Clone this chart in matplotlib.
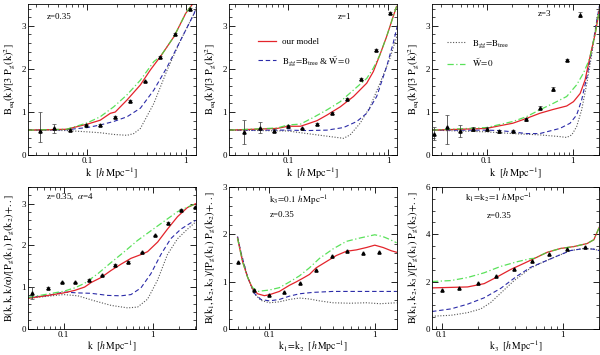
import matplotlib
matplotlib.use("Agg")
import matplotlib.pyplot as plt
from matplotlib.ticker import MultipleLocator, LogLocator, NullFormatter, FixedLocator, FixedFormatter

plt.rcParams["font.family"] = ["Liberation Serif", "DejaVu Serif"]
plt.rcParams["mathtext.fontset"] = "stix"

RED = "#e3242b"
GREEN = "#3ddc3d"
BLUE = "#2b2ba8"
GREY = "#555555"

# ---- panel 1: z=0.35, equilateral ----
p1_pts_k = [0.0328, 0.046, 0.0665, 0.097, 0.135, 0.192, 0.269, 0.384, 0.546, 0.77, 1.10]
p1_pts_y = [0.56, 0.62, 0.58, 0.71, 0.70, 0.88, 1.25, 1.71, 2.27, 2.81, 3.39]
p1_err_lo = [0.25, 0.10, 0.03, 0.02, 0.02, 0.02, 0.02, 0.02, 0.02, 0.02, 0.02]
p1_err_hi = [0.44, 0.10, 0.03, 0.02, 0.02, 0.02, 0.02, 0.02, 0.02, 0.02, 0.02]
p1_red_k = [0.0249, 0.0614, 0.1, 0.135, 0.171, 0.192, 0.253, 0.346, 0.438, 0.554, 0.76, 1.0, 1.17]
p1_red_y = [0.58, 0.60, 0.72, 0.81, 0.97, 1.00, 1.28, 1.63, 1.98, 2.29, 2.75, 3.29, 3.50]
p1_grn_k = [0.0249, 0.0614, 0.1, 0.135, 0.185, 0.253, 0.346, 0.474, 0.554, 0.76, 1.0, 1.17]
p1_grn_y = [0.58, 0.60, 0.75, 0.89, 1.12, 1.40, 1.74, 2.17, 2.29, 2.75, 3.29, 3.50]
p1_blu_k = [0.0249, 0.0614, 0.1, 0.135, 0.185, 0.253, 0.346, 0.474, 0.649, 0.889, 1.22, 1.31]
p1_blu_y = [0.58, 0.59, 0.64, 0.70, 0.78, 0.89, 1.09, 1.51, 2.05, 2.67, 3.29, 3.49]
p1_dot_k = [0.0249, 0.0614, 0.1, 0.135, 0.185, 0.253, 0.296, 0.346, 0.474, 0.649, 0.889, 1.22, 1.31]
p1_dot_y = [0.58, 0.57, 0.54, 0.52, 0.48, 0.46, 0.50, 0.62, 1.20, 1.98, 2.67, 3.29, 3.49]

# ---- panel 2: z=1, equilateral ----
p2_pts_k = [0.0366, 0.0528, 0.0726, 0.1, 0.139, 0.195, 0.275, 0.386, 0.536, 0.75, 1.04]
p2_pts_y = [0.53, 0.62, 0.57, 0.67, 0.62, 0.72, 0.98, 1.31, 1.77, 2.44, 3.29]
p2_err_lo = [0.28, 0.10, 0.04, 0.03, 0.02, 0.02, 0.02, 0.02, 0.02, 0.02, 0.02]
p2_err_hi = [0.28, 0.15, 0.04, 0.03, 0.02, 0.02, 0.02, 0.02, 0.02, 0.02, 0.02]
p2_red_k = [0.0261, 0.0784, 0.1, 0.1334, 0.155, 0.195, 0.245, 0.332, 0.450, 0.610, 0.710, 0.826, 0.962, 1.12, 1.21]
p2_red_y = [0.58, 0.62, 0.67, 0.67, 0.72, 0.80, 0.93, 1.12, 1.36, 1.67, 1.94, 2.33, 2.75, 3.22, 3.45]
p2_grn_k = [0.0261, 0.0784, 0.1, 0.1334, 0.181, 0.245, 0.332, 0.450, 0.610, 0.710, 0.826, 0.962, 1.12, 1.21]
p2_grn_y = [0.58, 0.63, 0.70, 0.72, 0.88, 1.05, 1.24, 1.51, 1.78, 2.02, 2.33, 2.75, 3.22, 3.45]
p2_blu_k = [0.0261, 0.1, 0.155, 0.245, 0.358, 0.485, 0.610, 0.766, 0.962, 1.12, 1.26]
p2_blu_y = [0.58, 0.58, 0.57, 0.58, 0.64, 0.78, 0.97, 1.36, 2.05, 2.60, 3.10]
p2_dot_k = [0.0261, 0.1, 0.155, 0.245, 0.358, 0.417, 0.524, 0.658, 0.826, 1.04, 1.26]
p2_dot_y = [0.58, 0.56, 0.50, 0.44, 0.39, 0.47, 0.74, 1.12, 1.67, 2.25, 2.87]

# ---- panel 3: z=3, equilateral ----
p3_pts_k = [0.0244, 0.0349, 0.049, 0.0698, 0.1, 0.141, 0.202, 0.289, 0.414, 0.593, 0.851, 1.22]
p3_pts_y = [0.50, 0.66, 0.56, 0.60, 0.60, 0.55, 0.56, 0.83, 1.10, 1.53, 2.21, 3.26]
p3_err_lo = [0.15, 0.40, 0.13, 0.05, 0.05, 0.03, 0.03, 0.03, 0.03, 0.05, 0.03, 0.05]
p3_err_hi = [0.15, 0.26, 0.13, 0.05, 0.05, 0.03, 0.03, 0.03, 0.03, 0.05, 0.03, 0.05]
p3_red_k = [0.0233, 0.1, 0.141, 0.202, 0.289, 0.414, 0.593, 0.851, 1.02, 1.22, 1.39, 1.59, 1.83, 2.04]
p3_red_y = [0.58, 0.62, 0.68, 0.74, 0.85, 0.97, 1.06, 1.14, 1.24, 1.43, 1.74, 2.29, 2.83, 3.37]
p3_grn_k = [0.0233, 0.1, 0.202, 0.289, 0.414, 0.593, 0.851, 1.11, 1.33, 1.53, 1.59, 1.83, 2.04]
p3_grn_y = [0.58, 0.64, 0.78, 0.89, 1.05, 1.20, 1.36, 1.63, 1.90, 2.18, 2.29, 2.83, 3.37]
p3_blu_k = [0.0233, 0.1, 0.141, 0.202, 0.289, 0.414, 0.710, 0.932, 1.11, 1.27, 1.46, 1.67, 1.91, 2.04]
p3_blu_y = [0.58, 0.58, 0.57, 0.54, 0.50, 0.50, 0.62, 0.74, 0.93, 1.28, 1.82, 2.44, 3.14, 3.45]
p3_dot_k = [0.0233, 0.1, 0.202, 0.414, 0.710, 0.851, 0.976, 1.11, 1.27, 1.46, 1.67, 1.91, 2.04]
p3_dot_y = [0.58, 0.54, 0.50, 0.47, 0.43, 0.41, 0.47, 0.66, 1.05, 1.67, 2.36, 3.14, 3.45]

# ---- panel 4: z=0.35, alpha=4 ----
p4_pts_k = [0.0442, 0.0668, 0.0958, 0.135, 0.191, 0.269, 0.379, 0.534, 0.753, 1.06, 1.50, 2.11, 2.98]
p4_pts_y = [0.86, 0.98, 1.11, 1.11, 1.17, 1.28, 1.53, 1.60, 1.83, 2.24, 2.54, 2.86, 2.91]
p4_err = [0.15, 0.03, 0.02, 0.02, 0.02, 0.02, 0.02, 0.02, 0.02, 0.02, 0.02, 0.02, 0.02]
p4_red_k = [0.0399, 0.0668, 0.1, 0.133, 0.172, 0.204, 0.264, 0.342, 0.442, 0.572, 0.740, 0.879, 1.14, 1.47, 1.91, 2.47, 3.05]
p4_red_y = [0.73, 0.80, 0.86, 0.92, 1.00, 1.11, 1.23, 1.40, 1.55, 1.69, 1.78, 1.85, 2.08, 2.39, 2.69, 2.91, 3.00]
p4_grn_k = [0.0399, 0.1, 0.133, 0.172, 0.242, 0.342, 0.482, 0.679, 0.957, 1.35, 1.91, 2.47, 3.05]
p4_grn_y = [0.75, 0.90, 0.98, 1.09, 1.32, 1.59, 1.85, 2.12, 2.35, 2.58, 2.81, 2.92, 3.00]
p4_blu_k = [0.0399, 0.0668, 0.1, 0.1446, 0.204, 0.313, 0.442, 0.572, 0.740, 0.957, 1.24, 1.60, 2.08, 2.69, 3.05]
p4_blu_y = [0.75, 0.80, 0.88, 0.86, 0.85, 0.80, 0.79, 0.82, 0.98, 1.32, 1.78, 2.16, 2.39, 2.54, 2.60]
p4_dot_k = [0.0399, 0.1, 0.1446, 0.222, 0.342, 0.525, 0.679, 0.879, 1.14, 1.47, 1.91, 2.47, 3.05]
p4_dot_y = [0.73, 0.82, 0.79, 0.67, 0.56, 0.50, 0.52, 0.71, 1.17, 1.78, 2.16, 2.39, 2.56]

# ---- panel 5: k3=0.1, z=0.35 ----
p5_pts_k = [0.0499, 0.072, 0.0985, 0.139, 0.197, 0.278, 0.395, 0.549, 0.775, 1.10]
p5_pts_y = [1.42, 0.82, 0.71, 0.77, 0.97, 1.25, 1.54, 1.65, 1.60, 1.63]
p5_red_k = [0.0499, 0.0557, 0.0622, 0.0693, 0.0774, 0.0896, 0.1, 0.1245, 0.155, 0.179, 0.208, 0.240, 0.278, 0.346, 0.431, 0.537, 0.669, 0.833, 1.0, 1.20, 1.44, 1.61]
p5_red_y = [1.92, 1.42, 1.09, 0.85, 0.74, 0.70, 0.72, 0.79, 0.92, 0.99, 1.07, 1.15, 1.29, 1.42, 1.55, 1.64, 1.67, 1.72, 1.77, 1.72, 1.65, 1.62]
p5_grn_k = [0.0499, 0.0557, 0.0622, 0.0693, 0.0774, 0.1, 0.1245, 0.155, 0.193, 0.240, 0.299, 0.401, 0.537, 0.719, 1.0, 1.20, 1.39, 1.61]
p5_grn_y = [1.92, 1.42, 1.09, 0.87, 0.79, 0.82, 0.87, 0.99, 1.12, 1.29, 1.49, 1.69, 1.85, 1.92, 1.99, 1.95, 1.89, 1.82]
p5_blu_k = [0.0499, 0.0537, 0.0622, 0.0720, 0.0833, 0.1, 0.1245, 0.155, 0.193, 0.259, 0.401, 0.622, 1.61]
p5_blu_y = [1.95, 1.62, 1.09, 0.75, 0.62, 0.59, 0.62, 0.69, 0.74, 0.77, 0.79, 0.79, 0.79]
p5_dot_k = [0.0499, 0.0537, 0.0622, 0.0720, 0.0833, 0.1, 0.1245, 0.155, 0.193, 0.240, 0.299, 0.401, 0.578, 0.833, 1.12, 1.61]
p5_dot_y = [1.95, 1.62, 1.09, 0.74, 0.60, 0.55, 0.57, 0.62, 0.65, 0.63, 0.59, 0.55, 0.54, 0.55, 0.53, 0.55]

# ---- panel 6: k1=k2=1, z=0.35 ----
p6_pts_k = [0.1, 0.140, 0.200, 0.283, 0.396, 0.552, 0.767, 1.09, 1.52]
p6_pts_y = [1.64, 1.73, 1.95, 2.24, 2.55, 2.87, 3.16, 3.37, 3.48]
p6_red_k = [0.0833, 0.1637, 0.2243, 0.288, 0.371, 0.478, 0.578, 0.744, 0.957, 1.23, 1.585, 1.80, 2.0]
p6_red_y = [1.73, 1.77, 1.91, 2.20, 2.51, 2.77, 2.97, 3.24, 3.40, 3.48, 3.61, 3.77, 4.31]
p6_grn_k = [0.0833, 0.1194, 0.1637, 0.2243, 0.307, 0.421, 0.542, 0.578, 0.744, 0.957, 1.23, 1.585, 1.80, 2.0]
p6_grn_y = [2.00, 2.04, 2.17, 2.37, 2.64, 2.84, 2.97, 2.98, 3.24, 3.40, 3.48, 3.61, 3.77, 4.31]
p6_blu_k = [0.0833, 0.1194, 0.1637, 0.2243, 0.307, 0.421, 0.542, 0.698, 0.898, 1.156, 1.49, 1.80, 2.0]
p6_blu_y = [0.73, 0.84, 1.04, 1.31, 1.71, 2.24, 2.60, 2.84, 3.08, 3.31, 3.40, 3.37, 3.31]
p6_dot_k = [0.0833, 0.1194, 0.1637, 0.2105, 0.254, 0.307, 0.396, 0.542, 0.698, 0.898, 1.156, 1.49, 1.80, 2.0]
p6_dot_y = [0.53, 0.57, 0.68, 0.84, 1.11, 1.51, 2.04, 2.57, 2.84, 3.08, 3.31, 3.40, 3.37, 3.31]

eq_ylabel = r"$\rm B_{eq}(k)/[3\ P_g(k)^2]$"
klabel = r"$\rm k\ \ [\mathit{h}\,Mpc^{-1}]$"

fig = plt.figure(figsize=(6.0, 3.55), dpi=100)

lefts = [0.047, 0.382, 0.720]
width = 0.279
top_b, top_h = 0.563, 0.425
bot_b, bot_h = 0.074, 0.399


def style(ax, xlim, ylim, ymaj, ymin):
    ax.set_xscale("log")
    ax.set_xlim(*xlim)
    ax.set_ylim(*ylim)
    ax.xaxis.set_major_locator(FixedLocator([0.1, 1.0]))
    ax.xaxis.set_major_formatter(FixedFormatter(["0.1", "1"]))
    ax.xaxis.set_minor_locator(LogLocator(base=10, subs=range(2, 10)))
    ax.xaxis.set_minor_formatter(NullFormatter())
    ax.yaxis.set_major_locator(MultipleLocator(ymaj))
    ax.yaxis.set_minor_locator(MultipleLocator(ymin))
    ax.tick_params(which="both", direction="in", top=True, right=True, labelsize=6.5, pad=1.5)
    ax.tick_params(which="major", length=4, width=0.6)
    ax.tick_params(which="minor", length=2, width=0.5)
    for s in ax.spines.values():
        s.set_linewidth(0.6)


def curves(ax, dot, blu, grn, red):
    ax.plot(dot[0], dot[1], color=GREY, ls=(0, (1, 1.5)), lw=0.8,
            label=r"$\rm B_{gg}\!=\!B_{tree}$")
    ax.plot(blu[0], blu[1], color=BLUE, ls=(0, (4, 2.5)), lw=0.8,
            label=r"$\rm B_{gg}\!=\!B_{tree}$ & $\tilde{\rm W}\!=\!0$")
    ax.plot(red[0], red[1], color=RED, lw=0.9, label="our model")
    ax.plot(grn[0], grn[1], color=GREEN, ls=(0, (5, 2, 1, 2)), lw=0.9, alpha=0.85,
            label=r"$\tilde{\rm W}\!=\!0$")


def points(ax, k, y, err=None):
    ax.errorbar(k, y, yerr=err, fmt="^", ms=2.3, color="black", ecolor="#444444",
                elinewidth=0.6, capsize=1.5, capthick=0.5, zorder=5)


# top row
ax1 = fig.add_axes([lefts[0], top_b, width, top_h])
curves(ax1, (p1_dot_k, p1_dot_y), (p1_blu_k, p1_blu_y), (p1_grn_k, p1_grn_y), (p1_red_k, p1_red_y))
points(ax1, p1_pts_k, p1_pts_y, [p1_err_lo, p1_err_hi])
style(ax1, (0.025, 1.26), (0, 3.5), 1, 0.2)
ax1.set_ylabel(eq_ylabel, fontsize=7.5, labelpad=3)
ax1.set_xlabel(klabel, fontsize=7.5, labelpad=0)
ax1.text(0.11, 0.90, "z=0.35", transform=ax1.transAxes, fontsize=6.5)

ax2 = fig.add_axes([lefts[1], top_b, width, top_h])
curves(ax2, (p2_dot_k, p2_dot_y), (p2_blu_k, p2_blu_y), (p2_grn_k, p2_grn_y), (p2_red_k, p2_red_y))
points(ax2, p2_pts_k, p2_pts_y, [p2_err_lo, p2_err_hi])
style(ax2, (0.026, 1.21), (0, 3.5), 1, 0.2)
ax2.set_ylabel(eq_ylabel, fontsize=7.5, labelpad=3)
ax2.set_xlabel(klabel, fontsize=7.5, labelpad=0)
ax2.text(0.65, 0.90, "z=1", transform=ax2.transAxes, fontsize=6.5)
h, l = ax2.get_legend_handles_labels()
ax2.legend([h[2], h[1]], [l[2], l[1]], loc="upper left", bbox_to_anchor=(0.15, 0.80),
           frameon=False, fontsize=6.5, handlelength=2.0, handletextpad=0.7, labelspacing=0.8,
           borderaxespad=0)

ax3 = fig.add_axes([lefts[2], top_b, width, top_h])
curves(ax3, (p3_dot_k, p3_dot_y), (p3_blu_k, p3_blu_y), (p3_grn_k, p3_grn_y), (p3_red_k, p3_red_y))
points(ax3, p3_pts_k, p3_pts_y, [p3_err_lo, p3_err_hi])
style(ax3, (0.0233, 2.04), (0, 3.5), 1, 0.2)
ax3.set_ylabel(eq_ylabel, fontsize=7.5, labelpad=3)
ax3.set_xlabel(klabel, fontsize=7.5, labelpad=0)
ax3.text(0.63, 0.92, "z=3", transform=ax3.transAxes, fontsize=6.5)
h, l = ax3.get_legend_handles_labels()
ax3.legend([h[0], h[3]], [l[0], l[3]], loc="upper left", bbox_to_anchor=(0.07, 0.80),
           frameon=False, fontsize=6.5, handlelength=2.0, handletextpad=0.7, labelspacing=0.8,
           borderaxespad=0)

# bottom row
ax4 = fig.add_axes([lefts[0], bot_b, width, bot_h])
curves(ax4, (p4_dot_k, p4_dot_y), (p4_blu_k, p4_blu_y), (p4_grn_k, p4_grn_y), (p4_red_k, p4_red_y))
points(ax4, p4_pts_k, p4_pts_y, p4_err)
style(ax4, (0.0399, 3.05), (0, 3.4), 1, 0.2)
ax4.set_ylabel(r"$\rm B(k,k,k/\alpha)/[P_g(k_1)\ P_g(k_2)\!+\!..]$", fontsize=7.5, labelpad=3)
ax4.set_xlabel(klabel, fontsize=7, labelpad=-0.5)
ax4.text(0.107, 0.92, r"z=0.35,  $\alpha$=4", transform=ax4.transAxes, fontsize=6.5)

ax5 = fig.add_axes([lefts[1], bot_b, width, bot_h])
curves(ax5, (p5_dot_k, p5_dot_y), (p5_blu_k, p5_blu_y), (p5_grn_k, p5_grn_y), (p5_red_k, p5_red_y))
points(ax5, p5_pts_k, p5_pts_y)
style(ax5, (0.0416, 1.61), (0, 3), 1, 0.2)
ax5.set_ylabel(r"$\rm B(k_1,k_2,k_3)/[P_g(k_1)\ P_g(k_2)\!+\!..]$", fontsize=7.5, labelpad=3)
ax5.set_xlabel(r"$\rm k_1\!=\!k_2\ \ [\mathit{h}\,Mpc^{-1}]$", fontsize=7, labelpad=-0.5)
ax5.text(0.24, 0.88, r"$\rm k_3\!=\!0.1\ \mathit{h}\,Mpc^{-1}$", transform=ax5.transAxes, fontsize=6.5)
ax5.text(0.24, 0.79, "z=0.35", transform=ax5.transAxes, fontsize=6.5)

ax6 = fig.add_axes([lefts[2], bot_b, width, bot_h])
curves(ax6, (p6_dot_k, p6_dot_y), (p6_blu_k, p6_blu_y), (p6_grn_k, p6_grn_y), (p6_red_k, p6_red_y))
points(ax6, p6_pts_k, p6_pts_y)
style(ax6, (0.0833, 2.0), (0, 6), 2, 0.5)
ax6.set_ylabel(r"$\rm B(k_1,k_2,k_3)/[P_g(k_1)\ P_g(k_2)\!+\!..]$", fontsize=7.5, labelpad=3)
ax6.set_xlabel(r"$\rm k_3\ \ [\mathit{h}\,Mpc^{-1}]$", fontsize=7, labelpad=-0.5)
ax6.text(0.40, 0.90, r"$\rm k_1\!=\!k_2\!=\!1\ \mathit{h}\,Mpc^{-1}$", transform=ax6.transAxes,
         fontsize=6.5, ha="center")
ax6.text(0.40, 0.78, "z=0.35", transform=ax6.transAxes, fontsize=6.5, ha="center")

fig.savefig("out.png", dpi=100)
